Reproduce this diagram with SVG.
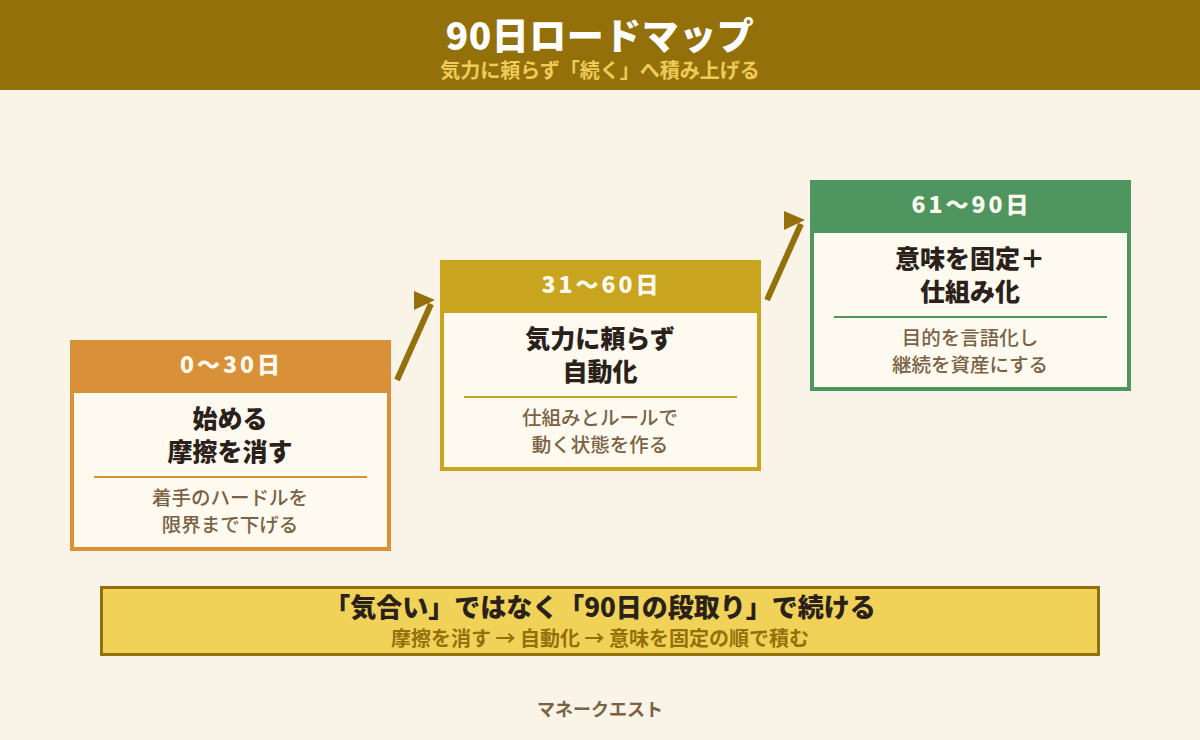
<svg xmlns="http://www.w3.org/2000/svg" width="1200" height="740" viewBox="0 0 1200 740">
<style>
text{font-family:"Noto Sans CJK JP","Noto Sans",sans-serif;text-anchor:middle}
.t{font-size:37px;font-weight:900;fill:#FFFFFF;letter-spacing:0.5px}
.st{font-size:20px;font-weight:700;fill:#EFCB58}
.ph{font-size:23px;font-weight:900;fill:#FFFAF0;letter-spacing:3px}
.mt{font-size:25px;font-weight:900;fill:#2A211A}
.sb{font-size:19.5px;font-weight:500;fill:#7A6245}
.inner{fill:#FFFAF0;stroke-width:4}
.arr{stroke:#94700A;stroke-width:6;fill:none}
.ah{fill:#94700A}
.b1{font-size:26px;font-weight:900;fill:#2A211A}
.b2{font-size:20px;font-weight:700;fill:#94700A}
.ft{font-size:18px;font-weight:700;fill:#7A6245}
</style>
<rect width="1200" height="740" fill="#FAF3E8"/>
<g id="header">
<rect x="0" y="0" width="1200" height="90" fill="#94700A"/>
<text class="t" x="600" y="50">90日ロードマップ</text>
<text class="st" x="600" y="78">気力に頼らず「続く」へ積み上げる</text>
</g>
<g id="connectors">
<line class="arr" x1="397" y1="380" x2="431" y2="304"/>
<polygon class="ah" points="414,291 435,300 414,310"/>
<line class="arr" x1="767" y1="300" x2="801" y2="224"/>
<polygon class="ah" points="784,211 805,220 784,230"/>
</g>
<g id="phase1">
<rect class="inner" x="72" y="342" width="317" height="207" stroke="#D89138"/>
<rect x="70" y="340" width="321" height="53" fill="#D89138"/>
<text class="ph" x="231.5" y="373">0〜30日</text>
<text class="mt" x="230" y="428">始める</text>
<text class="mt" x="230" y="461">摩擦を消す</text>
<line x1="94" y1="477" x2="367" y2="477" stroke="#D89138" stroke-width="2"/>
<text class="sb" x="230" y="505">着手のハードルを</text>
<text class="sb" x="230" y="532">限界まで下げる</text>
</g>
<g id="phase2">
<rect class="inner" x="442" y="262" width="317" height="207" stroke="#C9A41F"/>
<rect x="440" y="260" width="321" height="53" fill="#C9A41F"/>
<text class="ph" x="601.5" y="293">31〜60日</text>
<text class="mt" x="600" y="348">気力に頼らず</text>
<text class="mt" x="600" y="381">自動化</text>
<line x1="464" y1="397" x2="737" y2="397" stroke="#C9A41F" stroke-width="2"/>
<text class="sb" x="600" y="425">仕組みとルールで</text>
<text class="sb" x="600" y="452">動く状態を作る</text>
</g>
<g id="phase3">
<rect class="inner" x="812" y="182" width="317" height="207" stroke="#4E9560"/>
<rect x="810" y="180" width="321" height="53" fill="#4E9560"/>
<text class="ph" x="971.5" y="213">61〜90日</text>
<text class="mt" x="970" y="268">意味を固定＋</text>
<text class="mt" x="970" y="301">仕組み化</text>
<line x1="834" y1="317" x2="1107" y2="317" stroke="#4E9560" stroke-width="2"/>
<text class="sb" x="970" y="345">目的を言語化し</text>
<text class="sb" x="970" y="372">継続を資産にする</text>
</g>
<g id="summary">
<rect x="101.5" y="587.5" width="997" height="67" fill="#F0D258" stroke="#94700A" stroke-width="3"/>
<text class="b1" x="600" y="617">「気合い」ではなく「90日の段取り」で続ける</text>
<text class="b2" x="600" y="646">摩擦を消す → 自動化 → 意味を固定の順で積む</text>
</g>
<g id="footer">
<text class="ft" x="600" y="716">マネークエスト</text>
</g>
</svg>
